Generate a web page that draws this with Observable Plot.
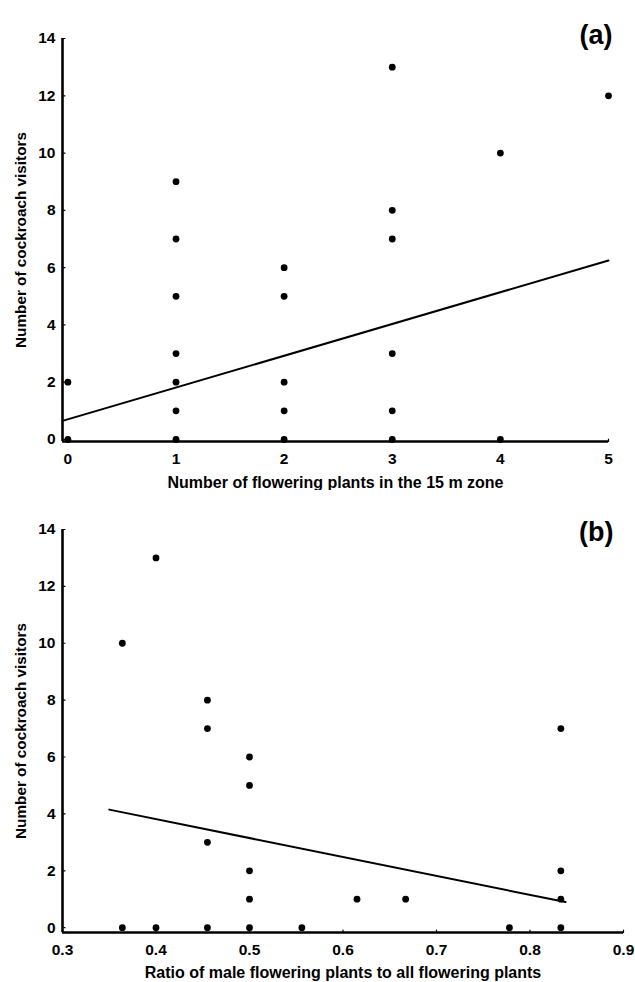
<!DOCTYPE html>
<html><head><meta charset="utf-8">
<script src="https://cdn.jsdelivr.net/npm/d3@7"></script>
<script src="https://cdn.jsdelivr.net/npm/@observablehq/plot@0.6"></script>
<style>body{margin:0;background:#fff} #c{width:635px} #c svg{display:block}</style>
</head><body><div id="c"></div>
<script>
// Panel (a): number of flowering plants in the 15 m zone vs cockroach visitors
const plantsA   = [0,0, 1,1,1,1,1,1,1, 2,2,2,2,2, 3,3,3,3,3,3, 4,4, 5];
const visitorsA = [2,0, 9,7,5,3,2,1,0, 6,5,2,1,0, 13,8,7,3,1,0, 10,0, 12];
// fitted line endpoints (panel a)
const fitAX = [-0.05, 5];
const fitAY = [0.65, 6.25];

// Panel (b): ratio of male flowering plants vs cockroach visitors
const ratioB    = [0.364,0.364, 0.4,0.4, 0.455,0.455,0.455,0.455, 0.5,0.5,0.5,0.5,0.5, 0.556, 0.615, 0.667, 0.778, 0.833,0.833,0.833,0.833];
const visitorsB = [10,0, 13,0, 8,7,3,0, 6,5,2,1,0, 0, 1, 1, 0, 7,2,1,0];
const fitBX = [0.35, 0.838];
const fitBY = [4.15, 0.9];

const yTicks  = [0,2,4,6,8,10,12,14];
const xTicksA = [0,1,2,3,4,5];
const xTicksB = [0.3,0.4,0.5,0.6,0.7,0.8,0.9];

const labelA = "Number of flowering plants in the 15 m zone";
const labelB = "Ratio of male flowering plants to all flowering plants";
const yLabel = "Number of cockroach visitors";

const font = "'Liberation Sans', Arial, sans-serif";
const stub = {draw(ctx, l) { ctx.moveTo(0, 0); ctx.lineTo(0, -l); }};

function panel({xs, ys, fx, fy, xDomain, yDomain, xTicks, xFormat, xLabel, tag, tagDx, tagDy, labelDy, height, marginTop, marginBottom, marginRight}) {
  const pts = xs.map((x, i) => ({x, y: ys[i]}));
  const fit = fx.map((x, i) => ({x, y: fy[i]}));
  return Plot.plot({
    width: 635, height, marginLeft: 62, marginRight, marginTop, marginBottom,
    style: {fontFamily: font, fontSize: "15.5px", fontWeight: "bold", color: "#000", background: "#fff"},
    x: {domain: xDomain},
    y: {domain: yDomain},
    marks: [
      Plot.axisY({ticks: yTicks, tickSize: 0, tickPadding: 7, label: null, fontSize: 15.5, fontWeight: "bold"}),
      Plot.axisX({ticks: xTicks, tickSize: 0, tickPadding: 11, tickFormat: xFormat, label: null, fontSize: 15.5, fontWeight: "bold"}),
      Plot.vector(yTicks, {x: () => xDomain[0], y: d => d, rotate: 90, length: 2.5, anchor: "start", shape: stub, stroke: "#000", strokeWidth: 1.2}),
      Plot.vector(xTicks, {x: d => d, y: () => yDomain[0], rotate: 0, length: 2.5, anchor: "start", shape: stub, stroke: "#000", strokeWidth: 1.2}),
      Plot.ruleX([xDomain[0]], {stroke: "#000", strokeWidth: 2.6}),
      Plot.ruleY([yDomain[0]], {stroke: "#000", strokeWidth: 2.6}),
      Plot.line(fit, {x: "x", y: "y", stroke: "#000", strokeWidth: 2}),
      Plot.dot(pts, {x: "x", y: "y", r: 3.4, fill: "#000", stroke: "none"}),
      Plot.text([tag], {frameAnchor: "top-right", text: d => d, fontSize: 27, fontWeight: "bold", textAnchor: "end", lineAnchor: "middle", dx: tagDx, dy: tagDy}),
      Plot.text([xLabel], {frameAnchor: "bottom", text: d => d, fontSize: 16, fontWeight: "bold", textAnchor: "middle", lineAnchor: "middle", dy: labelDy}),
      Plot.text([yLabel], {frameAnchor: "left", text: d => d, fontSize: 15.3, fontWeight: "bold", textAnchor: "middle", rotate: -90, lineAnchor: "middle", dx: -41})
    ]
  });
}

const c = document.getElementById("c");
c.append(panel({
  xs: plantsA, ys: visitorsA, fx: fitAX, fy: fitAY,
  xDomain: [-0.05, 5], yDomain: [-0.07, 14], xTicks: xTicksA, xFormat: d3.format("d"),
  xLabel: labelA, tag: "(a)", tagDx: 4, tagDy: -3, labelDy: 41,
  height: 490, marginTop: 38, marginBottom: 49, marginRight: 27
}));
c.append(panel({
  xs: ratioB, ys: visitorsB, fx: fitBX, fy: fitBY,
  xDomain: [0.3, 0.9], yDomain: [-0.17, 14], xTicks: xTicksB, xFormat: d3.format(".1f"),
  xLabel: labelB, tag: "(b)", tagDx: -10, tagDy: 2.5, labelDy: 40,
  height: 492, marginTop: 39, marginBottom: 50, marginRight: 12
}));
</script></body></html>
